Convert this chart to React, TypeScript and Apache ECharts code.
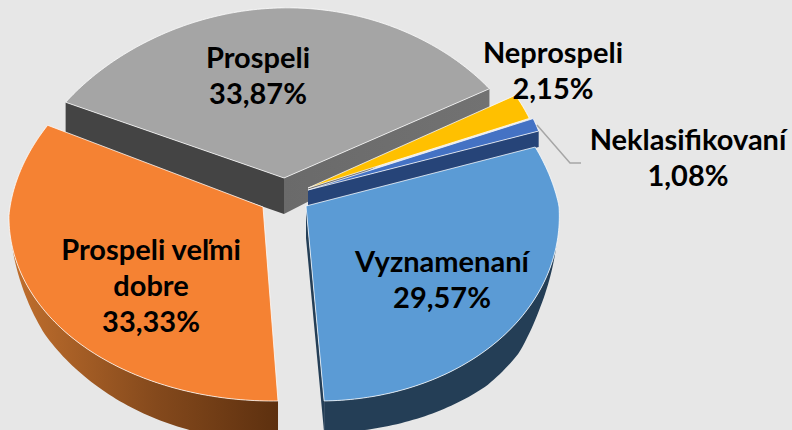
import React, { useEffect, useRef } from "react";
import * as echarts from "echarts";

const categories = ["Vyznamenaní", "Prospeli veľmi\ndobre", "Prospeli", "Neprospeli", "Neklasifikovaní"];
const shares = [29.57, 33.33, 33.87, 2.15, 1.08];

const START_DEG = -17.6;
const W = 792;
const H = 430;
const FONT = '700 29px Lato, "Noto Sans", sans-serif';

const fills = ["#5b9bd5", "#f58233", "#a5a5a5", "#ffc000", "#4472c4"];
const apexes = [[306, 206], [263, 207], [284, 178], [308, 188], [308, 190]];
const centres = [[306, 206], [263, 215], [278, 178], [306, 188], [308, 190]];
const radiiX = [253, 254, 256, 240, 242];
const radiiY = [195, 186, 170, 190, 195];
const upperWarps = [0.11, 0.11, 0.11, 0, 0];
const lowerWarps = [0, 0.05, 0, 0, 0];
const shearX = [0.067, 0.052, 0, 0, 0];
const tilts = [0, 0, -0.028, 0, 0];
const topZ = [9, 11, 3, 7, 6];
const labelPos = [[442, 278], [151, 284], [258, 74], [553, 69], [688, 156]];
const wallYs = [
  [245, 290, 320, 350, 401],
  [245, 310, 350, 375, 401],
];
const wallDepths = [
  [0, 18, 33, 36, 32],
  [0, 23, 30, 35, 40],
];

function wallDepth(i: number, y: number) {
  const xs = wallYs[i];
  const ds = wallDepths[i];
  if (y <= xs[0]) return ds[0];
  for (let k = 1; k < xs.length; k++) {
    if (y <= xs[k]) return ds[k - 1] + ((ds[k] - ds[k - 1]) * (y - xs[k - 1])) / (xs[k] - xs[k - 1]);
  }
  return ds[ds.length - 1];
}

function rim(i: number, deg: number) {
  const t = (deg * Math.PI) / 180;
  const c = Math.cos(t);
  const s = Math.sin(t);
  const warp = s < 0 ? upperWarps[i] : lowerWarps[i];
  return [
    centres[i][0] + radiiX[i] * c * (1 + warp * s) + shearX[i] * radiiY[i] * s,
    centres[i][1] + radiiY[i] * s + tilts[i] * radiiX[i] * c,
  ];
}

function arc(i: number, a0: number, a1: number) {
  const pts: number[][] = [];
  const n = Math.max(2, Math.ceil(Math.abs(a1 - a0)));
  for (let k = 0; k <= n; k++) pts.push(rim(i, a0 + ((a1 - a0) * k) / n));
  return pts;
}

const down = (p: number[], d: number) => [p[0], p[1] + d];

const poly = (points: number[][], fill: any, z2: number, stroke?: string) => ({
  type: "polygon",
  z2,
  silent: true,
  shape: { points },
  style: { fill, stroke: stroke ?? "none", lineWidth: stroke ? 1 : 0 },
});

function renderItem(params: any, api: any) {
  const i = params.dataIndex;
  const a0 = START_DEG + (shares.slice(0, i).reduce((s, v) => s + v, 0) * 360) / 100;
  const a1 = a0 + (api.value(0) * 360) / 100;
  const pts = arc(i, a0, a1);
  const apex = apexes[i];
  const first = pts[0];
  const last = pts[pts.length - 1];
  const children: any[] = [];

  if (i === 0) {
    const wall = [...pts, ...pts.map((p) => down(p, wallDepth(0, p[1]))).reverse()];
    children.push(poly(wall, "#243e56", 8));
    children.push(poly([apex, down(apex, 32), down(last, wallDepth(0, last[1])), last], "#243e56", 8));
  }
  if (i === 1) {
    const wall = [...pts, ...pts.map((p) => down(p, wallDepth(1, p[1]))).reverse()];
    const grad = new echarts.graphic.LinearGradient(1, 0, 0, 0, [
      { offset: 0, color: "#5d300f" },
      { offset: 0.45, color: "#84491c" },
      { offset: 1, color: "#c2702e" },
    ]);
    children.push(poly(wall, grad, 10));
  }
  if (i === 2) {
    children.push(poly([first, apex, down(apex, 36), down(first, 36)], "#444444", 1));
    const grad = new echarts.graphic.LinearGradient(0, 0, 1, 0, [
      { offset: 0, color: "#6a6a6a" },
      { offset: 1, color: "#727272" },
    ]);
    children.push(poly([apex, last, down(last, 20), down(apex, 36)], grad, 2));
  }
  if (i === 4) {
    children.push(poly([apex, last, down(last, 16), down(apex, 16)], "#264478", 5));
  }

  children.push(poly([apex, ...pts], fills[i], topZ[i], "rgba(255,255,255,0.75)"));

  if (i === 4) {
    children.push({
      type: "polyline",
      z2: 20,
      silent: true,
      shape: { points: [[537, 125], [570, 163], [581, 163]] },
      style: { stroke: "#a6a6a6", lineWidth: 1.5, fill: "none" },
    });
  }

  const value = api.value(0).toFixed(2).replace(".", ",") + "%";
  children.push({
    type: "text",
    z2: 30,
    silent: true,
    style: {
      text: categories[i] + "\n" + value,
      x: labelPos[i][0],
      y: labelPos[i][1],
      align: "center",
      verticalAlign: "middle",
      font: FONT,
      lineHeight: 36,
      fill: "#000000",
    },
  });
  return { type: "group", children };
}

export default function App() {
  const ref = useRef<HTMLDivElement>(null);
  useEffect(() => {
    document.body.style.margin = "0";
    const chart = echarts.init(ref.current!, undefined, { renderer: "svg" });
    chart.setOption({
      animation: false,
      backgroundColor: "#e7e7e7",
      series: [
        {
          type: "custom",
          coordinateSystem: "none",
          silent: true,
          clip: false,
          data: shares.map((v) => [v]),
          renderItem,
        },
      ],
    });
    return () => chart.dispose();
  }, []);
  return <div ref={ref} style={{ width: W, height: H }} />;
}
